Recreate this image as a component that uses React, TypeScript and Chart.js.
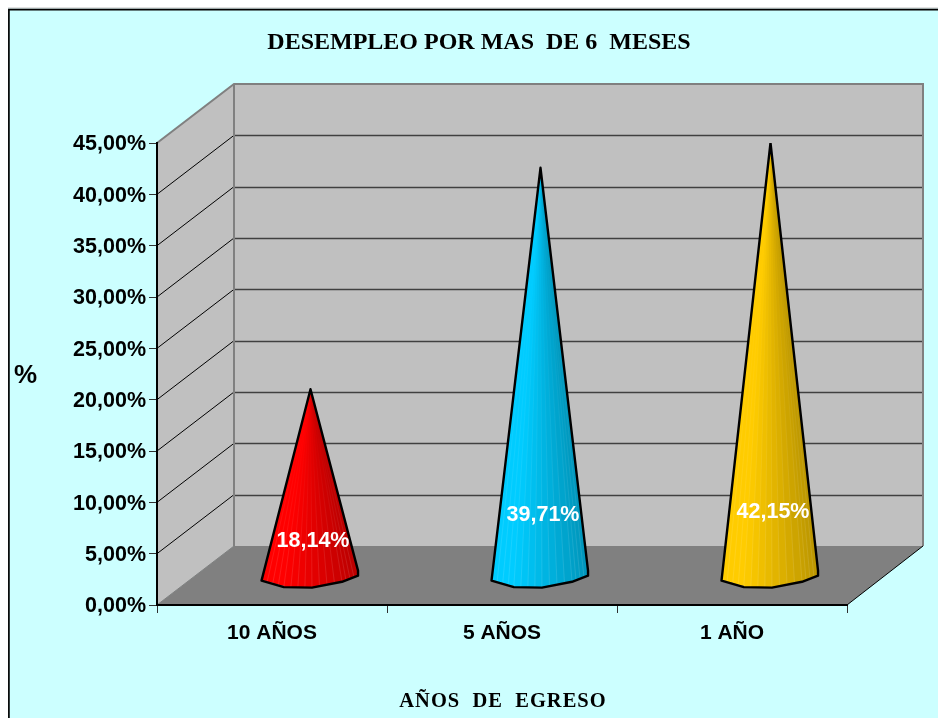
import React, { useEffect, useRef } from "react";
import { Chart, BarController, BarElement, registerables } from "chart.js";

const categories = ["10 AÑOS", "5 AÑOS", "1 AÑO"];
const desempleo = [18.14, 39.71, 42.15];
const coneColors = ["#ff0000", "#00ccff", "#ffcc00"];
const chartTitle = "DESEMPLEO POR MAS  DE 6  MESES";
const xTitle = "AÑOS  DE  EGRESO";
const yTitle = "%";

const DEPTH_X = 77;
const DEPTH_Y = -59;
const SANS = "'Liberation Sans', Arial, sans-serif";
const SERIF = "'Liberation Serif', 'Times New Roman', serif";

// outline of the cone's foot, in fractions of the half width
const footShape = [
  [-1.01, 0.115],
  [-0.55, 0.25],
  [0.03, 0.26],
  [0.65, 0.14],
  [0.98, 0.015],
];

function shade(hex: string, f: number) {
  const n = parseInt(hex.slice(1), 16);
  const r = Math.round(((n >> 16) & 255) * f);
  const g = Math.round(((n >> 8) & 255) * f);
  const b = Math.round((n & 255) * f);
  return `rgb(${r},${g},${b})`;
}

class ConeElement extends BarElement {
  static id = "cone";
  static defaults = { ...BarElement.defaults };
  static defaultRoutes = BarElement.defaultRoutes;
  draw(ctx: CanvasRenderingContext2D) {
    const { x, y, base, width } = (this as any).getProps(["x", "y", "base", "width"]);
    const color = (this as any).options.backgroundColor as string;
    const cx = x + DEPTH_X / 2;
    const apexY = y + DEPTH_Y / 2;
    const footY = base + DEPTH_Y / 2;
    const hw = width / 2;
    const pts = footShape.map(([a, b]) => [cx + a * hw, footY + b * hw]);
    const facets: number[][] = [];
    const perSeg = 4;
    for (let i = 0; i < pts.length - 1; i++) {
      for (let k = 0; k < perSeg; k++) {
        const t = k / perSeg;
        facets.push([
          pts[i][0] + (pts[i + 1][0] - pts[i][0]) * t,
          pts[i][1] + (pts[i + 1][1] - pts[i][1]) * t,
        ]);
      }
    }
    facets.push(pts[pts.length - 1]);
    const last = facets[facets.length - 1];
    const corner = [cx + 0.98 * hw, footY - 0.09 * hw];
    const outline = () => {
      ctx.beginPath();
      ctx.moveTo(cx, apexY);
      pts.forEach((p) => ctx.lineTo(p[0], p[1]));
      ctx.lineTo(corner[0], corner[1]);
      ctx.closePath();
    };
    ctx.save();
    outline();
    ctx.clip();
    // each facet is painted to the far side of the cone, so that no seam of background shows
    for (let i = 0; i < facets.length - 1; i++) {
      const mid = (facets[i][0] + facets[i + 1][0]) / 2;
      const u = (mid - (cx - hw)) / (2 * hw);
      const f = u < 0.22 ? 1 : 1 - ((u - 0.22) / 0.78) * 0.27;
      ctx.beginPath();
      ctx.moveTo(cx, apexY);
      ctx.lineTo(facets[i][0], facets[i][1]);
      ctx.lineTo(last[0], last[1] + 12);
      ctx.lineTo(corner[0] + 4, corner[1]);
      ctx.closePath();
      ctx.fillStyle = shade(color, f);
      ctx.fill();
    }
    // faint seams between the facets, fading towards the apex
    for (let i = 1; i < facets.length - 1; i++) {
      const g = ctx.createLinearGradient(0, apexY, 0, facets[i][1]);
      g.addColorStop(0, "rgba(255,255,255,0)");
      g.addColorStop(0.35, "rgba(255,255,255,0.02)");
      g.addColorStop(1, "rgba(255,255,255,0.16)");
      ctx.strokeStyle = g;
      ctx.lineWidth = 0.7;
      ctx.beginPath();
      ctx.moveTo(cx, apexY);
      ctx.lineTo(facets[i][0], facets[i][1]);
      ctx.stroke();
    }
    ctx.restore();
    ctx.save();
    outline();
    ctx.lineWidth = 2.4;
    ctx.lineJoin = "round";
    ctx.strokeStyle = "#000000";
    ctx.stroke();
    ctx.restore();
  }
}

class ConeController extends BarController {
  static id = "cone";
  static defaults = { ...BarController.defaults, dataElementType: "cone" };
  static overrides = BarController.overrides;
}

Chart.register(...registerables, ConeElement, ConeController);

const scene3d = {
  id: "scene3d",
  afterLayout(chart: any) {
    // centre the title over the whole frame rather than over what is left of the right margin
    chart.titleBlock.left = 111;
  },
  beforeDraw(chart: any) {
    const { ctx, chartArea: a, scales } = chart;
    const y = scales.y;
    // the reference's value labels sit a little lower than their tick marks
    y.getLabelItems().forEach((item: any) => {
      if (!item.options.nudged) {
        item.options.translation = [item.options.translation[0], item.options.translation[1] + 1.5];
        item.options.nudged = true;
      }
    });
    const bl = a.left + DEPTH_X;
    const br = a.right + DEPTH_X - 1;
    const top = y.getPixelForValue(y.max);
    const bot = y.getPixelForValue(y.min);
    ctx.save();
    ctx.fillStyle = "#ffffff";
    ctx.fillRect(0, 0, chart.width, chart.height);
    ctx.fillStyle = "#ccffff";
    ctx.fillRect(8, 8, chart.width - 8, chart.height - 8);
    ctx.strokeStyle = "#000000";
    ctx.lineWidth = 1.7;
    ctx.beginPath();
    ctx.moveTo(8.9, chart.height);
    ctx.lineTo(8.9, 9.6);
    ctx.lineTo(chart.width, 9.6);
    ctx.stroke();
    ctx.strokeStyle = "#a0a0a0";
    ctx.lineWidth = 1;
    ctx.beginPath();
    ctx.moveTo(8, 8.2);
    ctx.lineTo(chart.width, 8.2);
    ctx.stroke();

    // back wall
    ctx.fillStyle = "#c0c0c0";
    ctx.fillRect(bl, top + DEPTH_Y, br - bl, bot - top);
    // left wall
    ctx.beginPath();
    ctx.moveTo(a.left, top);
    ctx.lineTo(bl, top + DEPTH_Y);
    ctx.lineTo(bl, bot + DEPTH_Y);
    ctx.lineTo(a.left, bot);
    ctx.closePath();
    ctx.fill();
    // floor
    ctx.fillStyle = "#808080";
    ctx.beginPath();
    ctx.moveTo(a.left, bot);
    ctx.lineTo(a.right, bot);
    ctx.lineTo(br, bot + DEPTH_Y);
    ctx.lineTo(bl, bot + DEPTH_Y);
    ctx.closePath();
    ctx.fill();

    // gridlines
    y.ticks.forEach((t: any) => {
      const py = y.getPixelForValue(t.value);
      if (t.value > y.min && t.value < y.max) {
        ctx.strokeStyle = "#000000";
        ctx.lineWidth = 1;
        ctx.beginPath();
        ctx.moveTo(a.left, py);
        ctx.lineTo(bl, py + DEPTH_Y);
        ctx.stroke();
        ctx.strokeStyle = "#404040";
        ctx.lineWidth = 1.5;
        ctx.beginPath();
        ctx.moveTo(bl, Math.round(py + DEPTH_Y) + 0.5);
        ctx.lineTo(br, Math.round(py + DEPTH_Y) + 0.5);
        ctx.stroke();
      }
    });

    // wall edges
    ctx.strokeStyle = "#808080";
    ctx.lineWidth = 2;
    ctx.beginPath();
    ctx.moveTo(a.left, top);
    ctx.lineTo(bl, top + DEPTH_Y);
    ctx.lineTo(br, top + DEPTH_Y);
    ctx.lineTo(br, bot + DEPTH_Y);
    ctx.moveTo(bl, top + DEPTH_Y);
    ctx.lineTo(bl, bot + DEPTH_Y);
    ctx.stroke();
    ctx.lineWidth = 1;
    ctx.beginPath();
    ctx.moveTo(a.left, bot);
    ctx.lineTo(bl, bot + DEPTH_Y);
    ctx.stroke();
    ctx.strokeStyle = "#000000";
    ctx.beginPath();
    ctx.moveTo(a.right, bot);
    ctx.lineTo(br, bot + DEPTH_Y);
    ctx.stroke();
    ctx.restore();
  },
  afterDraw(chart: any) {
    const { ctx } = chart;
    const meta = chart.getDatasetMeta(0);
    ctx.save();
    // value labels on the cones
    ctx.font = `bold 21.5px ${SANS}`;
    ctx.fillStyle = "#ffffff";
    ctx.textAlign = "center";
    ctx.textBaseline = "middle";
    meta.data.forEach((el: any, i: number) => {
      const h = el.base - el.y;
      const ly = el.base + DEPTH_Y / 2 - 12.2 - 0.117 * h;
      ctx.fillText(
        desempleo[i].toFixed(2).replace(".", ",") + "%",
        el.x + DEPTH_X / 2 + 2.5,
        ly
      );
    });
    // axis titles
    ctx.fillStyle = "#000000";
    ctx.font = `bold 26px ${SANS}`;
    ctx.textAlign = "left";
    ctx.fillText(yTitle, 14, 376);
    ctx.font = `bold 20.5px ${SERIF}`;
    ctx.textAlign = "center";
    (ctx as any).letterSpacing = "1px";
    ctx.fillText(xTitle, 503, 702);
    (ctx as any).letterSpacing = "0px";
    ctx.restore();
  },
};

export default function App() {
  const ref = useRef<HTMLCanvasElement>(null);
  useEffect(() => {
    const chart = new Chart(ref.current!, {
      type: "cone" as any,
      data: {
        labels: categories,
        datasets: [
          {
            label: "Desempleo",
            data: desempleo,
            backgroundColor: coneColors,
            barThickness: 97,
          } as any,
        ],
      },
      options: {
        responsive: false,
        animation: false,
        layout: { padding: { left: 0, right: 91, top: 0, bottom: 0 } },
        plugins: {
          legend: { display: false },
          tooltip: { enabled: false },
          title: {
            display: true,
            text: chartTitle,
            color: "#000000",
            font: { family: SERIF, size: 24, weight: "bold", lineHeight: 1.2 },
            padding: { top: 28, bottom: 86.2 },
          },
        },
        scales: {
          x: {
            type: "category",
            offset: true,
            grid: { offset: true, drawOnChartArea: false, tickLength: 8, tickColor: "#303030", lineWidth: 1 },
            border: { color: "#000000", width: 2 },
            ticks: { color: "#000000", font: { family: SANS, size: 21, weight: "bold" }, padding: 8, maxRotation: 0 },
            afterFit: (s: any) => { s.height = 113; },
          },
          y: {
            type: "linear",
            min: 0,
            max: 45,
            grid: { drawOnChartArea: false, tickLength: 8, tickColor: "#303030" },
            border: { color: "#000000", width: 2 },
            ticks: {
              stepSize: 5,
              color: "#000000",
              font: { family: SANS, size: 21.5, weight: "bold" },
              padding: 3,
              callback: (v: any) => Number(v).toFixed(2).replace(".", ",") + "%",
            },
            afterFit: (s: any) => { s.width = 157; },
          },
        },
      },
      plugins: [scene3d],
    } as any);
    return () => chart.destroy();
  }, []);
  return (
    <canvas
      ref={ref}
      width={938}
      height={718}
      style={{ position: "fixed", left: 0, top: 0, display: "block" }}
    />
  );
}
